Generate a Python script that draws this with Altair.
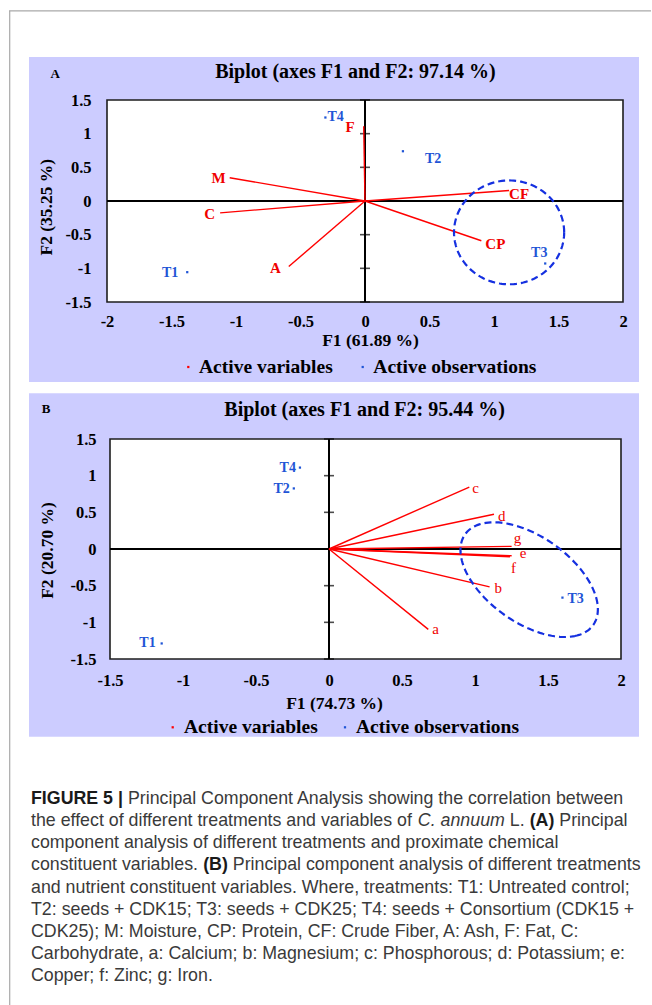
import math
import altair as alt
import pandas as pd

# ---------------- data ----------------
# Panel A : proximate constituents
a_var_names = ["M", "C", "A", "F", "CF", "CP"]
a_var_f1 = [-1.049, -1.123, -0.591, -0.010, 1.117, 0.902]
a_var_f2 = [0.346, -0.176, -0.973, 1.110, 0.157, -0.590]
a_obs_names = ["T1", "T2", "T3", "T4"]
a_obs_f1 = [-1.378, 0.294, 1.397, -0.307]
a_obs_f2 = [-1.057, 0.739, -0.928, 1.240]
a_ellipse = {"cx": 1.117, "cy": -0.466, "rx": 0.427, "ry": 0.771, "deg": 0.0}

# Panel B : nutrient constituents
b_var_names = ["a", "b", "c", "d", "e", "f", "g"]
b_var_f1 = [0.680, 1.100, 0.961, 1.130, 1.251, 1.240, 1.251]
b_var_f2 = [-1.096, -0.516, 0.844, 0.474, -0.092, -0.105, 0.036]
b_obs_names = ["T1", "T2", "T3", "T4"]
b_obs_f1 = [-1.146, -0.241, 1.599, -0.199]
b_obs_f2 = [-1.288, 0.826, -0.663, 1.110]
b_ellipse = {"cx": 1.371, "cy": -0.418, "rx": 0.830, "ry": 0.380, "deg": -67.9}

a_f1_ticks = [-2, -1.5, -1, -0.5, 0, 0.5, 1, 1.5, 2]
b_f1_ticks = [-1.5, -1, -0.5, 0, 0.5, 1, 1.5, 2]
f2_ticks = [-1.5, -1, -0.5, 0, 0.5, 1, 1.5]
axis_marks = [-1.5, -1, -0.5, 0.5, 1, 1.5]
f2_domain = [-1.5, 1.5]

caption_lines = [
    [("b", "FIGURE 5 |"), ("r", "Principal Component Analysis showing the correlation between")],
    [("r", "the effect of different treatments and variables of"), ("i", "C. annuum"), ("r", "L."),
     ("b", "(A)"), ("r", "Principal")],
    [("r", "component analysis of different treatments and proximate chemical")],
    [("r", "constituent variables."), ("b", "(B)"),
     ("r", "Principal component analysis of different treatments")],
    [("r", "and nutrient constituent variables. Where, treatments: T1: Untreated control;")],
    [("r", "T2: seeds + CDK15; T3: seeds + CDK25; T4: seeds + Consortium (CDK15 +")],
    [("r", "CDK25); M: Moisture, CP: Protein, CF: Crude Fiber, A: Ash, F: Fat, C:")],
    [("r", "Carbohydrate, a: Calcium; b: Magnesium; c: Phosphorous; d: Potassium; e:")],
    [("r", "Copper; f: Zinc; g: Iron.")],
]

# ---------------- styles / layout ----------------
SERIF = "Liberation Serif"
SANS = "Liberation Sans"
RED = "#ff0000"
RED_TXT = "#f00000"
BLUE_TXT = "#1f55d6"
ELL = "#1530e0"
LAV = "#ccccff"
ONE = pd.DataFrame({"k": [0]})
W = 516

# label placement: name -> (align, dx, dy)
a_label_pos = {"M": ("right", -4, 0), "C": ("right", -5, 1), "A": ("right", -8, 1),
               "F": ("right", -9, 1), "CF": ("left", 0, 4), "CP": ("left", 4, 3),
               "T1": ("right", -9, 1), "T2": ("left", 22, 8), "T3": ("center", -6, -10),
               "T4": ("left", 2, -1)}
b_label_pos = {"a": ("left", 4, 0), "b": ("left", 5, 1), "c": ("left", 3, 0.5),
               "d": ("left", 4, 2), "e": ("left", 8, -3), "f": ("left", 1, 11),
               "g": ("left", 2, -8), "T1": ("right", -6, 0), "T2": ("right", -4, 1),
               "T3": ("left", 5, 1), "T4": ("right", -4, 0)}


def ellipse_df(e, n=144):
    th = math.radians(e["deg"])
    rows = []
    for i in range(n + 1):
        t = 2 * math.pi * i / n
        x = e["cx"] + e["rx"] * math.cos(t) * math.cos(th) - e["ry"] * math.sin(t) * math.sin(th)
        y = e["cy"] + e["rx"] * math.cos(t) * math.sin(th) + e["ry"] * math.sin(t) * math.cos(th)
        rows.append({"i": i, "x": x, "y": y})
    return pd.DataFrame(rows)


def txt(text, x, y, size, weight="bold", color="black", align="left", font=SERIF):
    return alt.Chart(ONE).mark_text(
        text=text, font=font, fontSize=size, fontWeight=weight, color=color,
        align=align, baseline="middle"
    ).encode(x=alt.value(x), y=alt.value(y))


def dot(x, y, color):
    return alt.Chart(ONE).mark_square(size=5, color=color, opacity=1).encode(
        x=alt.value(x), y=alt.value(y))


def rect_px(x1, x2, y1, y2, fill):
    return alt.Chart(ONE).mark_rect(fill=fill).encode(
        x=alt.value(x1), x2=alt.value(x2), y=alt.value(y1), y2=alt.value(y2))


def panel(P):
    xs = alt.Scale(domain=P["xdom"], range=P["xrange"], nice=False, zero=False)
    ys = alt.Scale(domain=f2_domain, nice=False, zero=False)
    xaxis = alt.Axis(values=P["xticks"], labelExpr="'' + datum.value", grid=False, ticks=False,
                     domain=False, labelFlush=False, labelOverlap=False, labelFont=SERIF,
                     labelFontWeight="bold", labelFontSize=16.5, labelColor="black",
                     labelPadding=P["xpad"], title=P["xtitle"], titleFont=SERIF,
                     titleFontWeight="bold", titleFontSize=17.5, titleColor="black",
                     titleX=P["xtx"], titleY=P["xty"], titleBaseline="middle", zindex=1)
    yaxis = alt.Axis(values=f2_ticks, labelExpr="'' + datum.value", grid=False, ticks=False,
                     domain=False, labelOverlap=False, labelFont=SERIF, labelFontWeight="bold",
                     labelFontSize=16.5, labelColor="black", labelPadding=P["ypad"],
                     labelAlign="right", labelBaseline="middle",
                     title=P["ytitle"], titleFont=SERIF, titleFontWeight="bold",
                     titleFontSize=17.5, titleColor="black", titleAngle=270,
                     titleX=P["ytx"], titleY=P["yty"], titleBaseline="middle",
                     titleAlign="center", zindex=1)

    def X(field):
        return alt.X(field, type="quantitative", scale=xs, axis=xaxis)

    def Y(field):
        return alt.Y(field, type="quantitative", scale=ys, axis=yaxis)

    x0, x1 = P["xdom"]
    y0, y1 = f2_domain
    box = pd.DataFrame({"xa": [x0], "xb": [x1], "ya": [y0], "yb": [y1], "z": [0.0]})

    layers = list(P.get("pre", []))
    lx1, lx2, ly1, ly2 = P["lav"]
    layers.append(rect_px(lx1, lx2, ly1, ly2, LAV))
    # white plot area with frame
    layers.append(alt.Chart(box).mark_rect(fill="white", stroke="#1e1e1e", strokeWidth=1.6).encode(
        x=X("xa"), x2=alt.X2("xb"), y=Y("ya"), y2=alt.Y2("yb")))
    # zero axes
    layers.append(alt.Chart(box).mark_rule(color="black", strokeWidth=2).encode(
        x=X("xa"), x2=alt.X2("xb"), y=Y("z")))
    layers.append(alt.Chart(box).mark_rule(color="black", strokeWidth=2).encode(
        x=X("z"), y=Y("ya"), y2=alt.Y2("yb")))
    marks_df = pd.DataFrame({"v": axis_marks, "z": [0.0] * len(axis_marks)})
    layers.append(alt.Chart(marks_df).mark_tick(
        orient="horizontal", size=10, thickness=1.6, color="black").encode(
        x=X("z"), y=Y("v")))

    var_df = pd.DataFrame({"name": P["var_names"], "f1": P["var_f1"], "f2": P["var_f2"]})
    var_df["o"] = 0.0
    obs_df = pd.DataFrame({"name": P["obs_names"], "f1": P["obs_f1"], "f2": P["obs_f2"]})

    layers.append(alt.Chart(var_df).mark_rule(color=RED, strokeWidth=1.4).encode(
        x=X("o"), y=Y("o"), x2=alt.X2("f1"), y2=alt.Y2("f2")))
    layers.append(alt.Chart(ellipse_df(P["ellipse"])).mark_line(
        color=ELL, strokeWidth=2.2, strokeDash=[7, 4]).encode(
        x=X("x"), y=Y("y"), order=alt.Order("i:Q")))
    layers.append(alt.Chart(obs_df).mark_square(size=5, color=BLUE_TXT, opacity=1).encode(
        x=X("f1"), y=Y("f2")))

    for df, wt, size, color in [(var_df, P["var_weight"], 15, RED_TXT),
                                (obs_df, "bold", 14, BLUE_TXT)]:
        for n in df["name"]:
            al, dx, dy = P["label_pos"][n]
            layers.append(alt.Chart(df[df["name"] == n]).mark_text(
                align=al, baseline="middle", dx=dx, dy=dy, font=SERIF, fontWeight=wt,
                fontSize=size, color=color).encode(x=X("f1"), y=Y("f2"), text="name:N"))

    tx, ty = P["title_xy"]
    layers.append(txt(P["title"], tx, ty, 20, align="center"))
    lx, ly = P["letter_xy"]
    layers.append(txt(P["letter"], lx, ly, 13, align="center"))
    d1, t1, d2, t2, gy = P["legend"]
    layers.append(dot(d1, gy, RED))
    layers.append(txt("Active variables", t1, gy, 19.5))
    layers.append(dot(d2, gy, BLUE_TXT))
    layers.append(txt("Active observations", t2, gy, 19.5))

    return alt.layer(*layers).properties(width=W, height=P["h"])


# page background and border (drawn inside panel A, relative to its plot origin at page 107,100)
pre_a = [
    rect_px(-107, 545, -100, 905, "white"),
    alt.Chart(ONE).mark_rule(color="#a9a9a9", strokeWidth=1.2).encode(
        x=alt.value(-97.3), y=alt.value(-89.2), y2=alt.value(905)),
    alt.Chart(ONE).mark_rule(color="#a9a9a9", strokeWidth=1.2).encode(
        x=alt.value(-97.9), x2=alt.value(544), y=alt.value(-89.2)),
]

panel_a = panel({
    "pre": pre_a, "h": 202, "xdom": [-2, 2], "xrange": [0, 516], "xticks": a_f1_ticks,
    "xpad": 11, "ypad": 16, "xtitle": "F1 (61.89 %)", "xtx": 263, "xty": 38,
    "ytitle": "F2 (35.25 %)", "ytx": -60.7, "yty": 106.7,
    "lav": (-78, 532, -43, 282),
    "var_names": a_var_names, "var_f1": a_var_f1, "var_f2": a_var_f2,
    "obs_names": a_obs_names, "obs_f1": a_obs_f1, "obs_f2": a_obs_f2,
    "ellipse": a_ellipse, "var_weight": "bold", "label_pos": a_label_pos,
    "title": "Biplot (axes F1 and F2: 97.14 %)", "title_xy": (248.5, -28.5),
    "letter": "A", "letter_xy": (-51.7, -26),
    "legend": (81.3, 92, 255.7, 266.3, 267),
})

panel_b = panel({
    "h": 220, "xdom": [-1.5, 2], "xrange": [3, 514], "xticks": b_f1_ticks,
    "xpad": 13, "ypad": 11, "xtitle": "F1 (74.73 %)", "xtx": 227, "xty": 44,
    "ytitle": "F2 (20.70 %)", "ytx": -59.7, "yty": 111,
    "lav": (-78, 532, -45.7, 297.7),
    "var_names": b_var_names, "var_f1": b_var_f1, "var_f2": b_var_f2,
    "obs_names": b_obs_names, "obs_f1": b_obs_f1, "obs_f2": b_obs_f2,
    "ellipse": b_ellipse, "var_weight": "normal", "label_pos": b_label_pos,
    "title": "Biplot (axes F1 and F2: 95.44 %)", "title_xy": (257.6, -29),
    "letter": "B", "letter_xy": (-61, -30.3),
    "legend": (65.7, 77, 238, 249, 288.3),
})

# ---------------- caption ----------------
AR = {' ': 278, '.': 278, ',': 278, ';': 278, ':': 278, '(': 333, ')': 333, '|': 260, '+': 584,
      'a': 556, 'b': 556, 'c': 500, 'd': 556, 'e': 556, 'f': 278, 'g': 556, 'h': 556, 'i': 222,
      'j': 222, 'k': 500, 'l': 222, 'm': 833, 'n': 556, 'o': 556, 'p': 556, 'q': 556, 'r': 333,
      's': 500, 't': 278, 'u': 556, 'v': 500, 'w': 722, 'x': 500, 'y': 500, 'z': 500,
      'A': 667, 'B': 667, 'C': 722, 'D': 722, 'E': 667, 'F': 611, 'G': 778, 'L': 556, 'P': 667}
AB = {' ': 278, '(': 333, ')': 333, '|': 280, 'A': 722, 'B': 722, 'E': 667, 'F': 611, 'G': 778,
      'I': 278, 'R': 722, 'U': 722}
CAP_SIZE = 17.8


def seg_width(s, style):
    table = AB if style == "b" else AR
    return sum(table.get(ch, 556) for ch in s) * CAP_SIZE / 1000.0


rows = []
for li, segs in enumerate(caption_lines):
    x = 31.0
    for style, s in segs:
        rows.append({"line": li, "px": x, "text": s, "style": style})
        x += seg_width(s, style) + seg_width(" ", "r")
cap_df = pd.DataFrame(rows)

cap_x = alt.Scale(domain=[0, 652], range=[-107, 545])
cap_y = alt.Scale(domain=[0, 8], range=[3, 180])
cap_layers = []
for style, weight, fstyle, color in [("r", "normal", "normal", "#3a3a3a"),
                                     ("b", "bold", "normal", "#1a1a1a"),
                                     ("i", "normal", "italic", "#3a3a3a")]:
    cap_layers.append(alt.Chart(cap_df[cap_df["style"] == style]).mark_text(
        align="left", baseline="middle", font=SANS, fontSize=CAP_SIZE, fontWeight=weight,
        fontStyle=fstyle, color=color).encode(
        x=alt.X("px:Q", scale=cap_x, axis=None),
        y=alt.Y("line:Q", scale=cap_y, axis=None),
        text="text:N"))
caption = alt.layer(*cap_layers).properties(width=W, height=183)

chart = alt.vconcat(panel_a, panel_b, caption, spacing=137, bounds="flush").configure_view(
    stroke=None).properties(padding=0, background="white")

chart.save("out.html", embed_options={"renderer": "svg", "actions": False})
